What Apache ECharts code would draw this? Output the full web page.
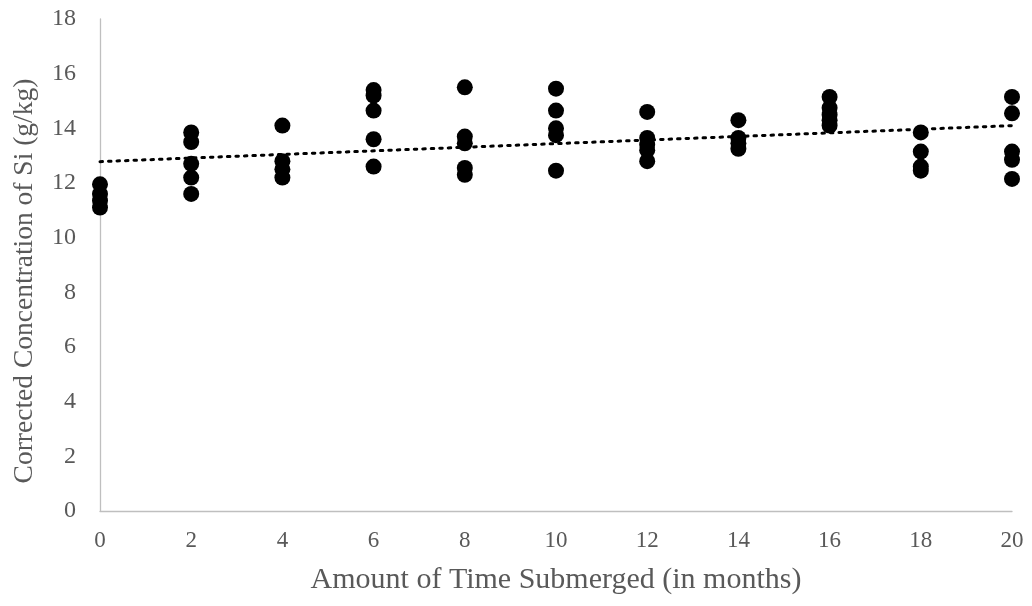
<!DOCTYPE html>
<html><head><meta charset="utf-8">
<script src="https://cdn.jsdelivr.net/npm/echarts@6/dist/echarts.min.js"></script>
<style>html,body{margin:0;padding:0;background:#fff}#c{width:1032px;height:606px}</style>
</head><body><div id="c"></div>
<script>
const months = [0, 2, 4, 6, 8, 10, 12, 14, 16, 18, 20];
const siValues = [
  [11.95, 11.6, 11.35, 11.1],
  [13.85, 13.5, 12.7, 12.2, 11.6],
  [14.1, 12.8, 12.5, 12.2],
  [15.4, 15.2, 14.65, 13.6, 12.6],
  [15.5, 13.7, 13.45, 12.55, 12.3],
  [15.45, 14.65, 14.0, 13.75, 12.45],
  [14.6, 13.65, 13.4, 13.2, 12.8],
  [14.3, 13.65, 13.45, 13.25],
  [15.15, 14.75, 14.5, 14.3, 14.1],
  [13.85, 13.15, 12.6, 12.45],
  [15.15, 14.55, 13.15, 12.85, 12.15]
];
const xTicks = {min: 0, max: 20, interval: 2};
const yTicks = {min: 0, max: 18, interval: 2};

const points = [];
months.forEach((m, i) => siValues[i].forEach(v => points.push([m, v])));
// least-squares linear trendline
const n = points.length;
const sx = points.reduce((a, p) => a + p[0], 0), sy = points.reduce((a, p) => a + p[1], 0);
const sxx = points.reduce((a, p) => a + p[0] * p[0], 0), sxy = points.reduce((a, p) => a + p[0] * p[1], 0);
const slope = (n * sxy - sx * sy) / (n * sxx - sx * sx);
const intercept = (sy - slope * sx) / n;
const trend = [[xTicks.min, intercept + slope * xTicks.min], [xTicks.max, intercept + slope * xTicks.max]];

const font = '"Liberation Serif", "Times New Roman", serif';
const chart = echarts.init(document.getElementById('c'));
chart.setOption({
  animation: false,
  grid: {left: 100, right: 20, top: 19, bottom: 95, containLabel: false, outerBoundsMode: 'none'},
  xAxis: {
    type: 'value', min: xTicks.min, max: xTicks.max, interval: xTicks.interval,
    name: 'Amount of Time Submerged (in months)', nameLocation: 'middle', nameGap: 54,
    nameTextStyle: {fontFamily: font, fontSize: 30, color: '#595959'},
    axisLine: {show: true, lineStyle: {color: '#bfbfbf', width: 1.3}},
    axisTick: {show: false}, splitLine: {show: false},
    axisLabel: {fontFamily: font, fontSize: 23, color: '#595959', margin: 18}
  },
  yAxis: {
    type: 'value', min: yTicks.min, max: yTicks.max, interval: yTicks.interval,
    name: 'Corrected Concentration of Si (g/kg)', nameLocation: 'middle', nameGap: 61,
    nameTextStyle: {fontFamily: font, fontSize: 27.5, color: '#595959', padding: [0, 32, 0, 0]},
    axisLine: {show: true, lineStyle: {color: '#bfbfbf', width: 1.3}},
    axisTick: {show: false}, splitLine: {show: false},
    axisLabel: {fontFamily: font, fontSize: 24, color: '#595959', margin: 24}
  },
  series: [
    {type: 'scatter', data: points, symbol: 'circle', symbolSize: 16,
     itemStyle: {color: '#000', opacity: 1}, z: 3},
    {type: 'line', data: trend, symbol: 'none', silent: true, z: 4,
     lineStyle: {color: '#000', width: 3, type: [2.5, 6], cap: 'round'}}
  ]
});
</script></body></html>
